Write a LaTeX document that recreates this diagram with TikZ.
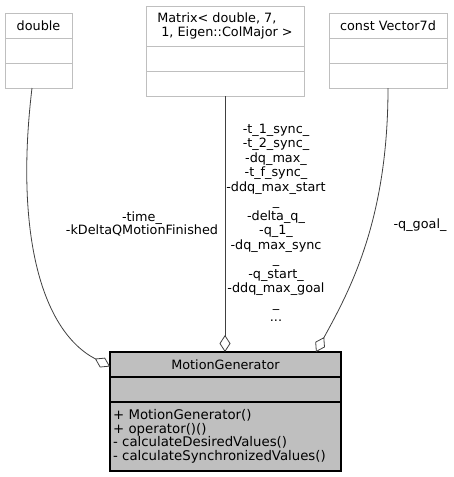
\documentclass[tikz,border=0pt]{standalone}
\usepackage{fontspec}
\setmainfont{DejaVu Sans}
\usetikzlibrary{positioning,arrows.meta}
\definecolor{boxgray}{HTML}{BFBFBF}
\definecolor{edgegray}{HTML}{404040}

\begin{document}
\begin{tikzpicture}[x=1pt, y=-1pt,
    classbox/.style={draw=boxgray, line width=0.9pt, fill=white, inner sep=0pt, outer sep=0pt,
      minimum height=25pt, font=\fontsize{12.8}{14.5}\selectfont},
    mainbox/.style={draw=black, line width=1.1pt, fill=boxgray, inner sep=0pt, outer sep=0pt,
      minimum width=231pt, minimum height=25pt, font=\fontsize{12.8}{13.3}\selectfont},
    agg/.style={draw=edgegray, line width=0.8pt, -{Diamond[open, length=17pt, width=11pt]}},
    role/.style={font=\fontsize{12.8}{14.5}\selectfont, align=center, inner sep=0pt}]

    % Page frame
    \useasboundingbox (0,0) rectangle (453,477);

    % Class double
    \node[classbox, minimum width=67pt, anchor=north west] (dbl) at (5,13) {double};
    \node[classbox, minimum width=67pt, below=0pt of dbl] (dblattr) {};
    \node[classbox, minimum width=67pt, below=0pt of dblattr] (dblops) {};

    % Class Matrix
    \node[classbox, minimum width=158pt, minimum height=40pt, align=left,
      anchor=north west] (mat) at (146,6) {Matrix< double, 7,\\\hspace*{4pt}1, Eigen::ColMajor >};
    \node[classbox, minimum width=158pt, below=0pt of mat] (matattr) {};
    \node[classbox, minimum width=158pt, below=0pt of matattr] (matops) {};

    % Class const Vector7d
    \node[classbox, minimum width=118pt, anchor=north west] (vec) at (329,13) {const Vector7d};
    \node[classbox, minimum width=118pt, below=0pt of vec] (vecattr) {};
    \node[classbox, minimum width=118pt, below=0pt of vecattr] (vecops) {};

    % Class MotionGenerator
    \node[mainbox, anchor=north west] (mgname) at (110,352) {MotionGenerator};
    \node[mainbox, below=0pt of mgname] (mgattr) {};
    \node[mainbox, below=0pt of mgattr, minimum height=69pt, text width=225pt, inner xsep=3pt,
      align=left, font=\fontsize{13.3}{13.6}\selectfont] (mgops) {+ MotionGenerator()\\+ operator()()\\- calculateDesiredValues()\\- calculateSynchronizedValues()};

    % Aggregation edges
    \draw[agg] ([xshift=-6.5pt]dblops.south) .. controls (15,230) and (40,330) .. ([yshift=-2pt]mgname.west);
    \draw[agg] (matops.south) -- (matops.south |- mgname.north);
    \draw[agg] (vecops.south) .. controls (388,220) and (350,290) .. ([xshift=90.5pt]mgname.north);

    % Member labels
    \node[role, font=\fontsize{12.8}{13}\selectfont] (ltime) at (142,223.5) {-time\_\\-kDeltaQMotionFinished};
    \node[role] (lsync) at (276,223) {-t\_1\_sync\_\\-t\_2\_sync\_\\-dq\_max\_\\-t\_f\_sync\_\\-ddq\_max\_start\\\_\\-delta\_q\_\\-q\_1\_\\-dq\_max\_sync\\\_\\-q\_start\_\\-ddq\_max\_goal\\\_\\...};
    \node[role] (lgoal) at (420,225) {-q\_goal\_};
\end{tikzpicture}
\end{document}
